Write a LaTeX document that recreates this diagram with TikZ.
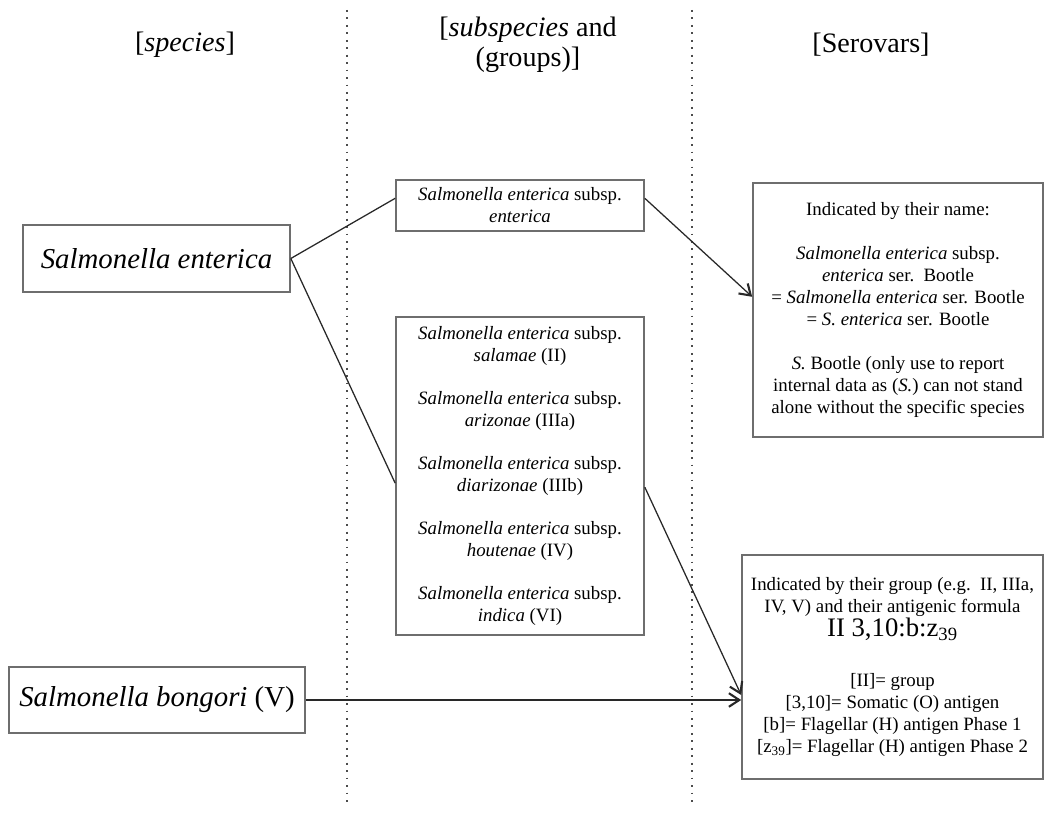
\documentclass[tikz,border=0pt]{standalone}
\usepackage{xcolor}
\usepackage{fontspec}
\setmainfont{Liberation Serif}
\usetikzlibrary{arrows.meta,calc}
\definecolor{boxEdge}{RGB}{110,110,110}
\definecolor{lineDark}{RGB}{40,40,40}
\newcommand{\bodysize}{\fontsize{13.4}{15.6}\selectfont}
\newcommand{\headsize}{\fontsize{20}{21.5}\selectfont}
\newcommand{\bigsize}{\fontsize{20.5}{23}\selectfont}
\newcommand{\formulasize}{\fontsize{19}{22}\selectfont}

\begin{document}
\begin{tikzpicture}[
    x=0.025cm,y=-0.025cm,
    taxbox/.style={draw=boxEdge,line width=1.1pt,fill=white,align=center,inner sep=4pt},
    head/.style={align=center,font=\headsize},
    link/.style={draw=lineDark,line width=0.9pt},
    arr/.style={link,-{Straight Barb[length=2.6mm,width=3.4mm,line width=1.5pt]}},
    divider/.style={draw=black!70,line width=1.3pt,dash pattern=on 1.3pt off 4pt}
  ]
  \useasboundingbox (0,0) rectangle (1047,814);

  % column dividers
  \coordinate (d1top) at (347,10);
  \coordinate (d1bot) at (347,805);
  \coordinate (d2top) at (692,10);
  \coordinate (d2bot) at (692,805);
  \draw[divider] (d1top) -- (d1bot);
  \draw[divider] (d2top) -- (d2bot);

  % column headings
  \node[head] (hSpecies) at (185,45) {[\textit{species}]};
  \node[head] (hSub)     at (528,45) {[\textit{subspecies} and\\(groups)]};
  \node[head] (hSerovar) at (871,45) {[Serovars]};

  % species
  \node[taxbox,minimum width=6.675cm,minimum height=1.675cm,font=\bigsize] (spE) at (156.5,258.5)
    {\textit{Salmonella enterica}};
  \node[taxbox,minimum width=7.4cm,minimum height=1.65cm,font=\bigsize] (spB) at (157,700)
    {\textit{Salmonella bongori} (V)};

  % subspecies
  \node[taxbox,minimum width=6.2cm,minimum height=1.275cm,font=\bodysize] (subE) at (520,205.5)
    {\textit{Salmonella enterica} subsp.\\\textit{enterica}};
  \node[taxbox,minimum width=6.2cm,minimum height=7.95cm,font=\bodysize] (subL) at (520,476)
    {\textit{Salmonella enterica} subsp.\\\textit{salamae} (II)\\[0.53cm]
     \textit{Salmonella enterica} subsp.\\\textit{arizonae} (IIIa)\\[0.53cm]
     \textit{Salmonella enterica} subsp.\\\textit{diarizonae} (IIIb)\\[0.53cm]
     \textit{Salmonella enterica} subsp.\\\textit{houtenae} (IV)\\[0.53cm]
     \textit{Salmonella enterica} subsp.\\\textit{indica} (VI)};

  % serovars
  \node[taxbox,minimum width=7.25cm,minimum height=6.35cm,font=\bodysize] (serA) at (898,310)
    {Indicated by their name:\\[0.55cm]
     \textit{Salmonella enterica} subsp.\\
     \textit{enterica} ser.\ \ Bootle\\
     = \textit{Salmonella enterica} ser. Bootle\\
     = \textit{S. enterica} ser. Bootle\\[0.55cm]
     \textit{S.} Bootle (only use to report\\
     internal data as (\textit{S.}) can not stand\\
     alone without the specific species};
  \node[taxbox,minimum width=7.525cm,minimum height=5.6cm,font=\bodysize] (serB) at (892.5,667)
    {Indicated by their group (e.g.\ \ II, IIIa,\\
     IV, V) and their antigenic formula\\
     {\formulasize II 3,10:b:z\textsubscript{39}}\\[0.7cm]
     [II]= group\\
     {[3,10]}= Somatic (O) antigen\\
     {[b]}= Flagellar (H) antigen Phase 1\\
     {[z\textsubscript{39}]}= Flagellar (H) antigen Phase 2};

  % links
  \draw[link] (spE.east) -- ([yshift=0.18cm]subE.west);
  \draw[link] (spE.east) -- ([yshift=-0.18cm]subL.west);
  \draw[arr] ([yshift=0.18cm]subE.east) -- ([yshift=0.33cm]serA.west);
  \draw[arr] ([yshift=-0.28cm]subL.east) -- ([yshift=-0.7cm]serB.west);
  \draw[arr] (spB.east) -- (spB.east -| serB.west);
\end{tikzpicture}
\end{document}
